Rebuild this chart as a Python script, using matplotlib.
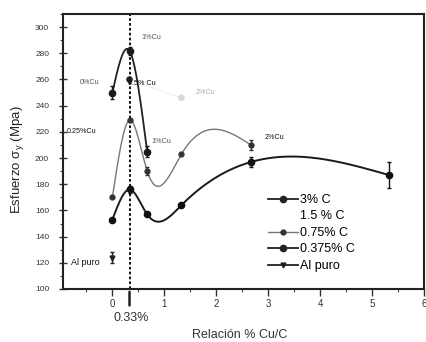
import numpy as np
import matplotlib
matplotlib.use("Agg")
import matplotlib.pyplot as plt
from matplotlib.lines import Line2D

plt.rcParams['font.family'] = ['Liberation Sans', 'DejaVu Sans']

# ---- data (Cu/C ratio vs yield stress, MPa) ----
c3_x = [0.0, 0.33, 0.67]
c3_y = [250, 282, 205]
c3_err = [5, 3, 4]

c15_x = [0.33, 1.33]
c15_y = [260, 246]

c075_x = [0.0, 0.33, 0.67, 1.33, 2.67]
c075_y = [170, 229, 190, 203, 210]
c075_err = [0, 0, 3, 0, 4]

c0375_x = [0.0, 0.33, 0.67, 1.33, 2.67, 5.33]
c0375_y = [153, 176, 157, 164, 197, 187]
c0375_err = [0, 3, 0, 0, 4, 10]

al_x = [0.0]
al_y = [124]
al_err = [4]

legend_labels = ["3% C", "1.5 % C", "0.75% C", "0.375% C", "Al puro"]
annotations = [("1%Cu", 0.55, 292), ("0%Cu", -0.63, 258), ("0.5% Cu", 0.30, 257),
               ("2%Cu", 1.6, 250), ("0.25%Cu", -0.88, 220), ("1%Cu", 0.76, 213),
               ("2%Cu", 2.93, 216), ("Al puro", -0.80, 120)]
annot_sizes = [5.2, 5.2, 5.2, 5.2, 5.2, 5.2, 5.2, 6.5]
annot_colors = ["#555555", "#555555", "#111111", "#aaaaaa", "#111111", "#555555", "#111111", "#111111"]


def natural_spline(x, y, n=300):
    x = np.asarray(x, float)
    y = np.asarray(y, float)
    m = len(x)
    h = np.diff(x)
    A = np.zeros((m, m))
    b = np.zeros(m)
    A[0, 0] = 1
    A[-1, -1] = 1
    for i in range(1, m - 1):
        A[i, i - 1] = h[i - 1]
        A[i, i] = 2 * (h[i - 1] + h[i])
        A[i, i + 1] = h[i]
        b[i] = 6 * ((y[i + 1] - y[i]) / h[i] - (y[i] - y[i - 1]) / h[i - 1])
    M = np.linalg.solve(A, b)
    xs = np.linspace(x[0], x[-1], n)
    ys = np.empty_like(xs)
    for k, xv in enumerate(xs):
        i = min(np.searchsorted(x, xv, side='right') - 1, m - 2)
        i = max(i, 0)
        t1 = x[i + 1] - xv
        t0 = xv - x[i]
        ys[k] = (M[i] * t1 ** 3 / (6 * h[i]) + M[i + 1] * t0 ** 3 / (6 * h[i])
                 + (y[i] / h[i] - M[i] * h[i] / 6) * t1
                 + (y[i + 1] / h[i] - M[i + 1] * h[i] / 6) * t0)
    return xs, ys


fig = plt.figure(figsize=(4.26, 3.42), dpi=100)
ax = fig.add_axes([0.148, 0.155, 0.847, 0.804])

# dotted vertical line at 0.33
ax.axvline(0.33, color='black', lw=1.3, ls=(0, (1.5, 1.2)), zorder=1)

# curves
sx, sy = natural_spline(c3_x, c3_y)
ax.plot(sx, sy, color='#222222', lw=1.3, zorder=2)
ax.errorbar(c3_x, c3_y, yerr=c3_err, fmt='o', color='#1a1a1a', ms=4.5, capsize=1.5, elinewidth=1, zorder=3)

sx, sy = natural_spline(c075_x, c075_y)
ax.plot(sx, sy, color='#777777', lw=1.0, zorder=2)
ax.errorbar(c075_x, c075_y, yerr=c075_err, fmt='o', color='#333333', ms=3.5, capsize=1.5, elinewidth=1, zorder=3)

sx, sy = natural_spline(c0375_x, c0375_y)
ax.plot(sx, sy, color='#1a1a1a', lw=1.4, zorder=2)
ax.errorbar(c0375_x, c0375_y, yerr=c0375_err, fmt='o', color='#111111', ms=4.5, capsize=1.5, elinewidth=1, zorder=3)

ax.plot(c15_x, c15_y, color='#eeeeee', lw=0.8, zorder=1)
ax.scatter(c15_x, c15_y, c=['#222222', '#d8d8d8'], s=14, zorder=3)

ax.errorbar(al_x, al_y, yerr=al_err, fmt='v', color='#222222', ms=3.5, capsize=1.5, elinewidth=1, zorder=3)

# annotations
for (txt, x, y), fs, col in zip(annotations, annot_sizes, annot_colors):
    ax.text(x, y, txt, fontsize=fs, color=col, va='center', ha='left')

# axes limits and ticks
ax.set_xlim(-0.95, 5.93)
ax.set_ylim(100, 310)
ax.set_xticks([0, 1, 2, 3, 4, 5, 6])
ax.set_xticks([-0.5, 0.5, 1.5, 2.5, 3.5, 4.5, 5.5], minor=True)
ax.set_yticks(np.arange(100, 301, 20))
ax.set_yticks(np.arange(110, 311, 20), minor=True)
ax.tick_params(axis='y', which='major', direction='inout', length=6, width=1, labelsize=6, pad=7, colors='#333333')
ax.tick_params(axis='x', which='major', direction='out', length=5, width=1, labelsize=7, pad=2, colors='#333333')
ax.tick_params(axis='both', which='minor', direction='out', length=2.5, width=0.8, colors='#444444')
for s in ax.spines.values():
    s.set_linewidth(1.5)
    s.set_color('#222222')

# 0.33 marker under axis
ax.annotate('', xy=(0.33, 100), xycoords='data', xytext=(0.33, -0.07), textcoords=('data', 'axes fraction'),
            arrowprops=dict(arrowstyle='-', lw=1.8, color='#222222'), annotation_clip=False)
ax.text(0.36, -0.085, "0.33%", transform=ax.get_xaxis_transform(), ha='center', va='top', fontsize=9, color='#333333')

ax.set_ylabel("Esfuerzo σ$_\\mathregular{y}$ (Mpa)", fontsize=9.5, color='#222222')
ax.yaxis.set_label_coords(-0.103, 0.47)
ax.set_xlabel("Relación % Cu/C", fontsize=9, color='#333333')
ax.xaxis.set_label_coords(0.49, -0.145)

# legend
handles = [
    Line2D([], [], color='#222222', lw=1.3, marker='o', ms=4.5),
    Line2D([], [], color='white', lw=0),
    Line2D([], [], color='#777777', lw=1.0, marker='o', ms=3.5, mfc='#333333', mec='#333333'),
    Line2D([], [], color='#222222', lw=1.3, marker='o', ms=4.5),
    Line2D([], [], color='#222222', lw=1.3, marker='v', ms=3.5),
]
ax.legend(handles, legend_labels, loc='lower left', bbox_to_anchor=(0.545, 0.03), frameon=False,
          fontsize=9, labelspacing=0.36, handlelength=2.4, handletextpad=0.1, borderpad=0.2)

fig.savefig("out.png", dpi=100)
